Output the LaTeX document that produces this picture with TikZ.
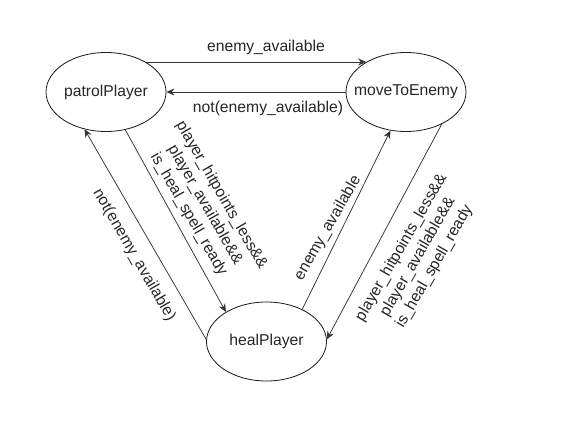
\documentclass[tikz,border=0pt]{standalone}
\usepackage{fontspec}
\setmainfont{Liberation Sans}
\usetikzlibrary{shapes.geometric,arrows.meta}
\begin{document}
\begin{tikzpicture}[x=1pt,y=-1pt,
  state/.style={draw=black!90, ellipse, minimum width=120pt, minimum height=79pt, inner sep=0pt, line width=0.8pt, text=black!85, font=\fontsize{15.7}{18}\selectfont},
  conn/.style={draw=black!80, line width=0.75pt, -{Stealth[length=8pt,width=7pt]}},
  lbl/.style={font=\fontsize{15.7}{19}\selectfont, text=black!85, align=center, inner sep=0pt}]
\fill[white] (0,0) rectangle (568,441);
\useasboundingbox (0,0) rectangle (568,441);
\node[state] (pp) at (106,92) {\makebox[40pt]{patrolPlayer}};
\node[state] (me) at (406,92) {\makebox[40pt]{moveToEnemy}};
\node[state] (hp) at (266.5,341.5) {\makebox[40pt]{healPlayer}};
% edges
\draw[conn] (pp.37) -- (me.143);
\draw[conn] (me.180) -- (pp.0);
\draw[conn] (pp.-63.4) -- (hp.144);
\draw[conn] (hp.178) -- (pp.240.4);
\draw[conn] (hp.42.5) -- (me.248.2);
\draw[conn] (me.-42.5) -- (hp.2);
% labels
\node[lbl] (l1) at (266,47) {enemy\_available};
\node[lbl] (l2) at (268,108) {not(enemy\_available)};
\node[lbl, rotate=-60] (l3) at (205,205) {player\_hitpoints\_less\&\&\\player\_available\&\&\\is\_heal\_spell\_ready};
\node[lbl, rotate=-60] (l4) at (134,255) {not(enemy\_available)};
\node[lbl, rotate=60] (l5) at (328,228) {enemy\_available};
\node[lbl, rotate=60] (l6) at (418,257) {player\_hitpoints\_less\&\&\\player\_available\&\&\\is\_heal\_spell\_ready};
\end{tikzpicture}
\end{document}
